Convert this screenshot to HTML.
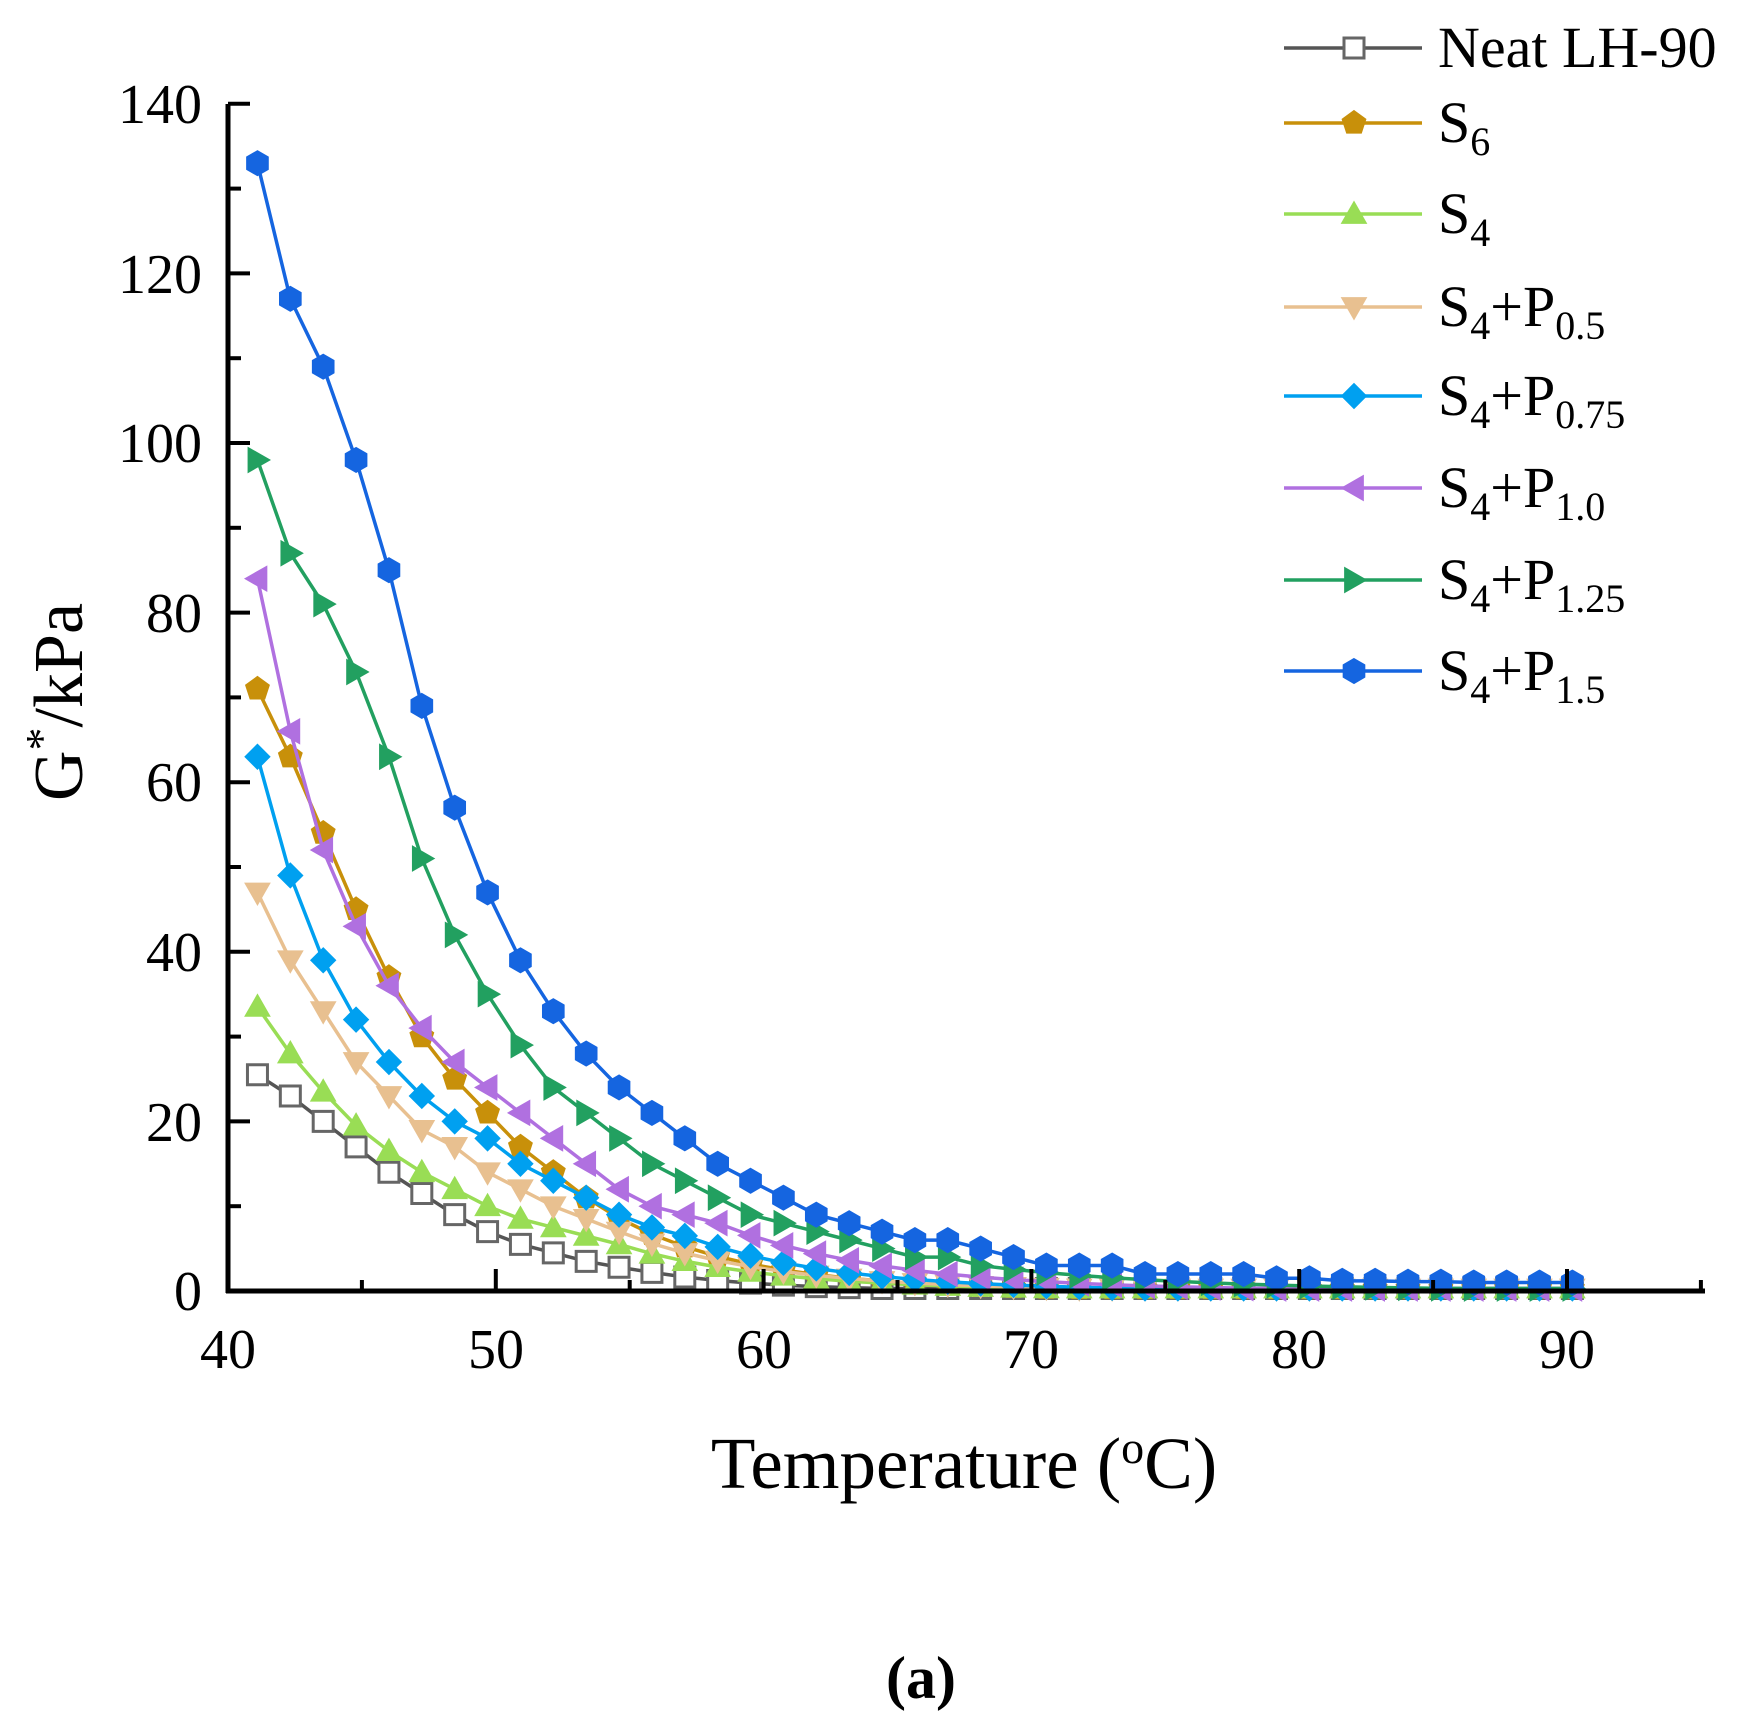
<!DOCTYPE html>
<html><head><meta charset="utf-8"><style>
html,body{margin:0;padding:0;background:#fff}
svg{display:block}
text{font-family:"Liberation Serif",serif;fill:#000}
</style></head><body>
<svg id="s" width="1748" height="1726" xmlns="http://www.w3.org/2000/svg">
<g font-size="56" text-anchor="end">
<text x="202" y="1310">0</text>
<text x="202" y="1141">20</text>
<text x="202" y="971">40</text>
<text x="202" y="801">60</text>
<text x="202" y="632">80</text>
<text x="202" y="462">100</text>
<text x="202" y="293">120</text>
<text x="202" y="123">140</text>
</g>
<g font-size="56" text-anchor="middle">
<text x="228" y="1368">40</text>
<text x="496" y="1368">50</text>
<text x="764" y="1368">60</text>
<text x="1031" y="1368">70</text>
<text x="1299" y="1368">80</text>
<text x="1567" y="1368">90</text>
</g>
<text x="964" y="1488" font-size="73" text-anchor="middle">Temperature (<tspan baseline-shift="super" font-size="46">o</tspan>C)</text>
<text transform="translate(82,702) rotate(-90)" font-size="70" text-anchor="middle">G<tspan baseline-shift="super" font-size="46">*</tspan>/kPa</text>
<text x="921" y="1698" font-size="60" font-weight="bold" text-anchor="middle">(a)</text>
<g id="data"></g>
<g id="axes" stroke="#000" stroke-width="5" fill="none"></g>
<g id="leg"></g>
</svg>
<script>
const NS="http://www.w3.org/2000/svg";
const X=t=>228+(t-40)*26.78, Y=v=>1291-v*8.48;
const axes=document.getElementById('axes');
function ln(g,x1,y1,x2,y2,w){const l=document.createElementNS(NS,'line');l.setAttribute('x1',x1);l.setAttribute('y1',y1);l.setAttribute('x2',x2);l.setAttribute('y2',y2);if(w)l.setAttribute('stroke-width',w);g.appendChild(l);}
ln(axes,228,104,228,1293);ln(axes,226,1291,1705,1291);
for(let v=0;v<=140;v+=10){const y=Y(v);ln(axes,228,y,v%20==0?250:241,y,4);}
for(let t=40;t<=95;t+=5){const x=X(t);ln(axes,x,1291,x,t%10==0?1269:1280,4);}
const series=[
 {c:'#555',f:'#fff',m:'sq',v:[25.5,23,20,17,14,11.5,9,7,5.5,4.5,3.5,2.8,2.2],r:.75},
 {c:'#c8900a',f:'#c8900a',m:'pent',v:[71,63,54,45,37,30,25,21,17,14,11],r:.78},
 {c:'#99dd55',f:'#99dd55',m:'up',v:[33.5,28,23.5,19.5,16.5,14,12,10,8.5,7.5,6.5,5.5],r:.8},
 {c:'#e8c090',f:'#e8c090',m:'down',v:[47,39,33,27,23,19,17,14,12,10,8.5,7],r:.8},
 {c:'#00a0f0',f:'#00a0f0',m:'dia',v:[63,49,39,32,27,23,20,18,15,13,11,9,7.5,6.5],r:.8},
 {c:'#b070e0',f:'#b070e0',m:'left',v:[84,66,52,43,36,31,27,24,21,18,15,12,10,9,8],r:.82},
 {c:'#22a060',f:'#22a060',m:'right',v:[98,87,81,73,63,51,42,35,29,24,21,18,15,13,11,9,8,7,6,5,4,4,3],r:.85},
 {c:'#1565e0',f:'#1565e0',m:'hex',v:[133,117,109,98,85,69,57,47,39,33,28,24,21,18,15,13,11,9,8,7,6,6,5,4,3,3,3,2,2,2,2,1.5,1.5,1.2,1.2,1.1,1.1,1,1,1,1],r:.95}
];
const N=41,ts=[];for(let i=0;i<N;i++)ts.push(41.1+i*(90.2-41.1)/(N-1));
function marker(g,m,x,y,c,f,s){let e;s=s||12.5;
 const poly=pts=>{e=document.createElementNS(NS,'polygon');e.setAttribute('points',pts.map(p=>(x+p[0]*s)+','+(y+p[1]*s)).join(' '));};
 const reg=(n,rot)=>{const p=[];for(let k=0;k<n;k++){const a=rot+k*2*Math.PI/n;p.push([Math.cos(a),Math.sin(a)]);}poly(p);};
 if(m=='sq'){poly([[-.8,-.8],[.8,-.8],[.8,.8],[-.8,.8]]);}
 else if(m=='pent')reg(5,-Math.PI/2);
 else if(m=='hex')reg(6,-Math.PI/2);
 else if(m=='up')poly([[0,-1],[1,.75],[-1,.75]]);
 else if(m=='down')poly([[0,1],[1,-.75],[-1,-.75]]);
 else if(m=='left')poly([[-1,0],[.75,-1],[.75,1]]);
 else if(m=='right')poly([[1,0],[-.75,-1],[-.75,1]]);
 else if(m=='dia')poly([[0,-1],[1,0],[0,1],[-1,0]]);
 e.setAttribute('fill',f);e.setAttribute('stroke',m=='sq'?'#666':c);e.setAttribute('stroke-width',m=='sq'?3:1);g.appendChild(e);}
const dg=document.getElementById('data');
series.forEach(S=>{const vals=[];let last=S.v[S.v.length-1];
 for(let i=0;i<N;i++){if(i<S.v.length)vals.push(S.v[i]);else{last*=S.r;vals.push(Math.max(last,0.3));}}
 const g=document.createElementNS(NS,'g');dg.appendChild(g);
 const pl=document.createElementNS(NS,'polyline');pl.setAttribute('points',vals.map((v,i)=>X(ts[i])+','+Y(v)).join(' '));
 pl.setAttribute('fill','none');pl.setAttribute('stroke',S.c);pl.setAttribute('stroke-width',3.5);g.appendChild(pl);
 vals.forEach((v,i)=>marker(g,S.m,X(ts[i]),Y(v),S.c,S.f));});
const names=['Neat LH-90','S<tspan font-size="40" dy="13">6</tspan>','S<tspan font-size="40" dy="13">4</tspan>',
'S<tspan font-size="40" dy="13">4</tspan><tspan dy="-13">+P</tspan><tspan font-size="40" dy="13">0.5</tspan>',
'S<tspan font-size="40" dy="13">4</tspan><tspan dy="-13">+P</tspan><tspan font-size="40" dy="13">0.75</tspan>',
'S<tspan font-size="40" dy="13">4</tspan><tspan dy="-13">+P</tspan><tspan font-size="40" dy="13">1.0</tspan>',
'S<tspan font-size="40" dy="13">4</tspan><tspan dy="-13">+P</tspan><tspan font-size="40" dy="13">1.25</tspan>',
'S<tspan font-size="40" dy="13">4</tspan><tspan dy="-13">+P</tspan><tspan font-size="40" dy="13">1.5</tspan>'];
const rows=[48,123,214,307,396,488,580,671],lg=document.getElementById('leg');
series.forEach((S,i)=>{const y=rows[i];const l=document.createElementNS(NS,'line');
 l.setAttribute('x1',1284);l.setAttribute('x2',1422);l.setAttribute('y1',y);l.setAttribute('y2',y);l.setAttribute('stroke',S.c);l.setAttribute('stroke-width',3.5);lg.appendChild(l);
 marker(lg,S.m,1354,y,S.c,S.f);
 const t=document.createElementNS(NS,'text');t.setAttribute('x',1438);t.setAttribute('y',y+19);t.setAttribute('font-size',58);t.innerHTML=names[i];lg.appendChild(t);});
</script>
</body></html>
